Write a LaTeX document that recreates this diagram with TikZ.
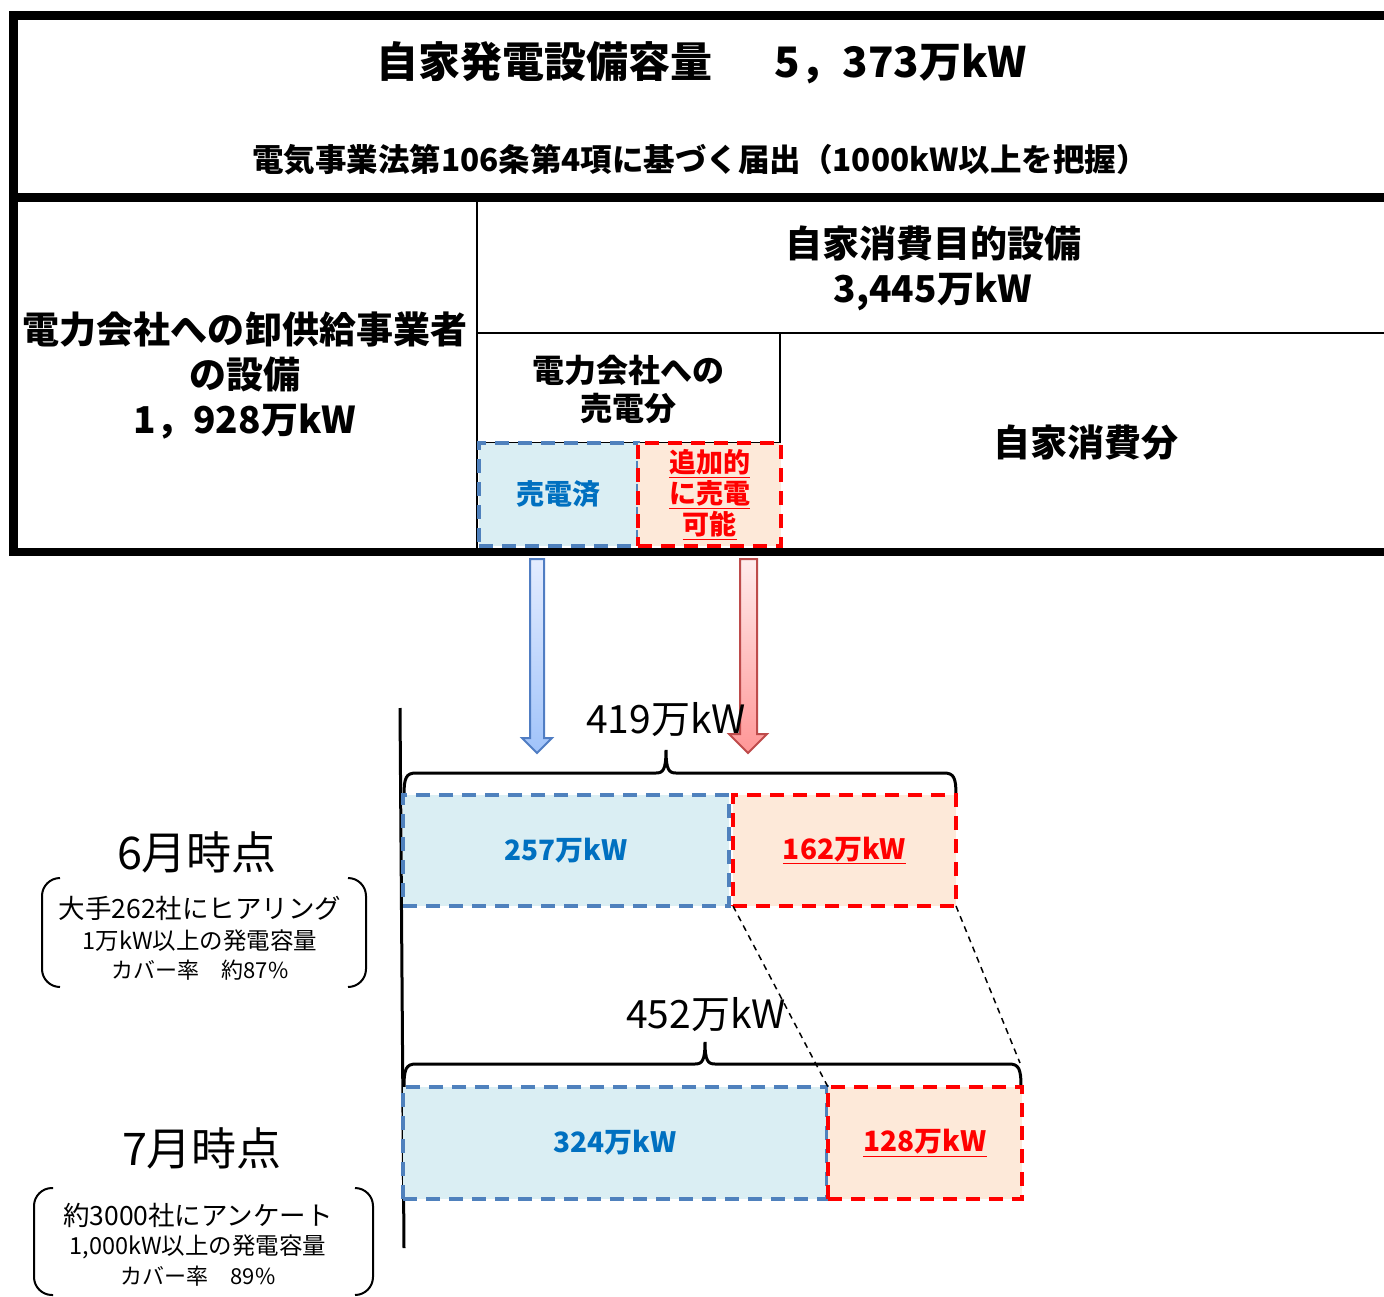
\documentclass[tikz,border=0pt]{standalone}
\usepackage{fontspec}
\setmainfont{Noto Sans CJK JP}
\usetikzlibrary{calc}

\definecolor{soldtext}{RGB}{0,112,192}
\definecolor{soldline}{RGB}{79,129,189}
\definecolor{soldfill}{RGB}{218,238,243}
\definecolor{addfill}{RGB}{253,233,217}
\definecolor{arrowblue}{RGB}{80,125,195}
\definecolor{arrowred}{RGB}{190,75,75}

\begin{document}
\begin{tikzpicture}[x=1pt,y=-1pt]

% Styles
\tikzset{
    thick rule/.style={line width=8.5pt, line join=miter},
    thin rule/.style={line width=2.5pt},
    sold box/.style={draw=soldline, fill=soldfill, line width=3.5pt, dash pattern=on 14pt off 9pt,
        anchor=north west, inner sep=0pt, outer sep=0pt, text=soldtext},
    add box/.style={draw=red, fill=addfill, line width=3.5pt, dash pattern=on 14pt off 9pt,
        anchor=north west, inner sep=0pt, outer sep=0pt, text=red, align=center},
    brace line/.style={line width=3pt},
    bracket/.style={line width=2pt, rounded corners=18pt},
    guide/.style={line width=1.5pt, dash pattern=on 6pt off 5pt}
}

\path[use as bounding box, fill=white] (0,0) rectangle (1384,1297);

% Frame
\draw[thick rule] (1384,15.5) -- (13.5,15.5) -- (13.5,552) -- (1384,552);
\draw[thick rule] (13.5,197.5) -- (1384,197.5);
\draw[thin rule] (477,201) -- (477,548);
\draw[thin rule] (477,333) -- (1384,333);
\draw[thin rule] (780,333) -- (780,548);
\draw[thin rule] (477,443) -- (780,443);

% Frame texts
\node[font=\fontsize{42}{50}\selectfont\bfseries] (TITLE) at (702,63) {自家発電設備容量\hspace{62pt}5，373万kW};
\node[font=\fontsize{31.5}{36}\selectfont\bfseries] (LAW) at (700,160) {電気事業法第106条第4項に基づく届出（1000kW以上を把握）};
\node[align=center, font=\fontsize{37}{45}\selectfont\bfseries] (WHOLE) at (245,376) {電力会社への卸供給事業者\\の設備\\1，928万kW};
\node[align=center, font=\fontsize{37}{45}\selectfont\bfseries] (SELF) at (933,268) {自家消費目的設備\\3,445万kW};
\node[align=center, font=\fontsize{32}{38}\selectfont\bfseries] (SALE) at (628,389) {電力会社への\\売電分};
\node[font=\fontsize{37}{45}\selectfont\bfseries] (USE) at (1086,443) {自家消費分};

% Small boxes
\node[sold box, minimum width=159pt, minimum height=103pt, font=\fontsize{28}{32}\selectfont\bfseries] (BLUEa) at (479,443) {売電済};
\node[add box, minimum width=143pt, minimum height=103pt, font=\fontsize{27}{31}\selectfont\bfseries] (REDa) at (638,443) {\underline{追加的}\\\underline{に売電}\\\underline{可能}};

% Arrows
\shade[draw=arrowblue, line width=2pt, top color={rgb,255:red,228;green,236;blue,255}, bottom color={rgb,255:red,160;green,195;blue,250}]
    (530,559) -- (530,738) -- (522,738) -- (537,753) -- (552,738) -- (544,738) -- (544,559) -- cycle;
\shade[draw=arrowred, line width=2pt, top color={rgb,255:red,255;green,236;blue,236}, bottom color={rgb,255:red,255;green,150;blue,150}]
    (740,559) -- (740,734) -- (729,734) -- (748,753) -- (767,734) -- (757,734) -- (757,559) -- cycle;

% Axis
\draw[line width=3pt] (400,708) -- (404,1248);

% June
\node[font=\fontsize{39}{44}\selectfont] (SUMa) at (666,720) {419万kW};
\draw[brace line] (404,795) .. controls (404,778) and (406,773) .. (416,773) -- (656,773)
    .. controls (663,773) and (666,770) .. (666,750) .. controls (666,770) and (669,773) .. (676,773)
    -- (944,773) .. controls (954,773) and (956,778) .. (956,795);
\node[sold box, minimum width=326pt, minimum height=111pt, font=\fontsize{28}{32}\selectfont\bfseries] (BLUEb) at (403,795) {257万kW};
\node[add box, minimum width=223pt, minimum height=111pt, font=\fontsize{28}{32}\selectfont\bfseries] (REDb) at (733,795) {\underline{162万kW}};

% July
\node[font=\fontsize{39}{44}\selectfont] (SUMb) at (706,1015) {452万kW};
\draw[brace line] (404,1087) .. controls (404,1069) and (406,1064) .. (416,1064) -- (695,1064)
    .. controls (702,1064) and (705,1061) .. (705,1042) .. controls (705,1061) and (708,1064) .. (715,1064)
    -- (1009,1064) .. controls (1019,1064) and (1021,1069) .. (1021,1087);
\node[sold box, minimum width=424pt, minimum height=112pt, font=\fontsize{28}{32}\selectfont\bfseries] (BLUEc) at (403,1087) {324万kW};
\node[add box, minimum width=194pt, minimum height=112pt, font=\fontsize{28}{32}\selectfont\bfseries] (REDc) at (828,1087) {\underline{128万kW}};

% Connection
\coordinate (ENDc) at (1020,1063);
\draw[guide] (REDb.south west) -- (REDc.north west);
\draw[guide] (REDb.south east) -- (ENDc);

% Left notes
\node[font=\fontsize{45}{50}\selectfont] (JUN) at (197,852) {6月時点};
\node[font=\fontsize{26.5}{30}\selectfont] (JUNa) at (200,908) {大手262社にヒアリング};
\node[font=\fontsize{23.5}{26}\selectfont] (JUNb) at (200,941) {1万kW以上の発電容量};
\node[font=\fontsize{22}{26}\selectfont] (JUNc) at (200,970) {カバー率　約87\%};
\draw[bracket] (60,878) -- (42,878) -- (42,987) -- (60,987);
\draw[bracket] (348,878) -- (366,878) -- (366,987) -- (348,987);

\node[font=\fontsize{45}{50}\selectfont] (JUL) at (202,1148) {7月時点};
\node[font=\fontsize{26.5}{30}\selectfont] (JULa) at (198,1215) {約3000社にアンケート};
\node[font=\fontsize{23.5}{26}\selectfont] (JULb) at (198,1247) {1,000kW以上の発電容量};
\node[font=\fontsize{22}{26}\selectfont] (JULc) at (198,1276) {カバー率　89\%};
\draw[bracket] (53,1188) -- (34,1188) -- (34,1295) -- (53,1295);
\draw[bracket] (355,1188) -- (373,1188) -- (373,1295) -- (355,1295);

\end{tikzpicture}
\end{document}
